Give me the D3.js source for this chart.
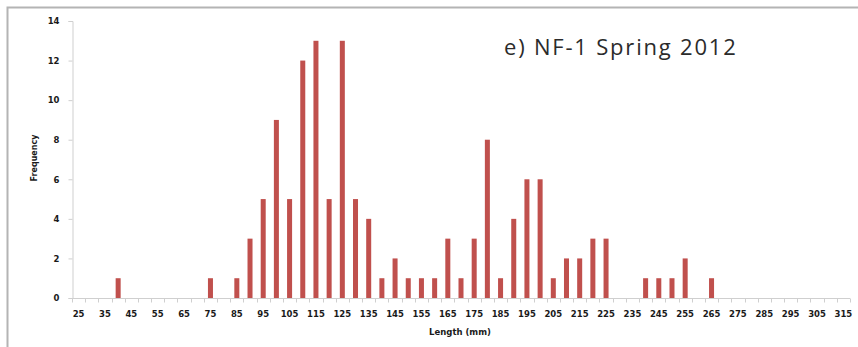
<!DOCTYPE html>
<html>
<head>
<meta charset="utf-8">
<script src="https://cdn.jsdelivr.net/npm/d3@7"></script>
<style>
  body { margin: 0; background: #fff; }
  svg { display: block; }
</style>
</head>
<body>
<div id="container"></div>
<script>
const WIDTH = 858;
const HEIGHT = 347;

// length classes (mm), 25 .. 315 in steps of 5
const lengths = [25, 30, 35, 40, 45, 50, 55, 60, 65, 70, 75, 80, 85, 90, 95,
                 100, 105, 110, 115, 120, 125, 130, 135, 140, 145, 150, 155, 160, 165, 170,
                 175, 180, 185, 190, 195, 200, 205, 210, 215, 220, 225, 230, 235, 240, 245,
                 250, 255, 260, 265, 270, 275, 280, 285, 290, 295, 300, 305, 310, 315];
const frequency = [0, 0, 0, 1, 0, 0, 0, 0, 0, 0, 1, 0, 1, 3, 5,
                   9, 5, 12, 13, 5, 13, 5, 4, 1, 2, 1, 1, 1, 3, 1,
                   3, 8, 1, 4, 6, 6, 1, 2, 2, 3, 3, 0, 0, 1, 1,
                   1, 2, 0, 1, 0, 0, 0, 0, 0, 0, 0, 0, 0, 0];
const yTicks = [0, 2, 4, 6, 8, 10, 12, 14];
const xLabels = lengths.filter((d, i) => i % 2 === 0);

const PLOT = { LEFT: 72, RIGHT: 850, TOP: 21, BOTTOM: 298 };
const TICK_FONT = 'DejaVu Sans, sans-serif';

const svg = d3.select('#container')
              .append('svg')
                .attr('width', WIDTH)
                .attr('height', HEIGHT);

// outer frame (only top and left edges are visible)
svg.append('path')
     .attr('d', `M7.5,${HEIGHT} V7.5 H${WIDTH}`)
     .attr('fill', 'none')
     .attr('stroke', '#b4b4b4')
     .attr('stroke-width', 2);

const xscale = d3.scaleBand()
                 .domain(lengths)
                 .range([PLOT.LEFT, PLOT.RIGHT])
                 .paddingInner(0.62)
                 .paddingOuter(0.31);

const yscale = d3.scaleLinear()
                 .domain([0, 14])
                 .range([PLOT.BOTTOM, PLOT.TOP]);

// y axis
const yAxis = svg.append('g')
                 .attr('transform', `translate(${PLOT.LEFT + 0.5}, 0)`)
                 .call(d3.axisLeft(yscale).tickValues(yTicks).tickSize(4).tickPadding(9));

yAxis.select('.domain').attr('stroke', '#cfcfcf');
yAxis.selectAll('.tick line').attr('stroke', '#cfcfcf');
yAxis.selectAll('.tick text')
     .attr('font-family', TICK_FONT)
     .attr('font-weight', 'bold')
     .attr('font-size', 8.5)
     .attr('fill', '#1a1a1a');

// x axis: ticks sit between categories, labels on every other class
const step = xscale.step();
const xAxis = svg.append('g')
                 .attr('transform', `translate(0, ${PLOT.BOTTOM + 0.5})`);

xAxis.append('line')
       .attr('x1', PLOT.LEFT)
       .attr('x2', PLOT.RIGHT)
       .attr('stroke', '#cfcfcf');

xAxis.selectAll('.xtick')
     .data(lengths.concat(['end']))
     .join('line')
       .attr('class', 'xtick')
       .attr('x1', (d, i) => Math.round(PLOT.LEFT + i * step) + 0.5)
       .attr('x2', (d, i) => Math.round(PLOT.LEFT + i * step) + 0.5)
       .attr('y1', 0)
       .attr('y2', 4)
       .attr('stroke', '#cfcfcf');

xAxis.selectAll('.xlabel')
     .data(xLabels)
     .join('text')
       .attr('class', 'xlabel')
       .attr('x', d => xscale(d) + xscale.bandwidth() / 2)
       .attr('y', 18)
       .attr('text-anchor', 'middle')
       .attr('font-family', TICK_FONT)
       .attr('font-weight', 'bold')
       .attr('font-size', 8.5)
       .attr('fill', '#1a1a1a')
       .text(d => d);

// bars
svg.append('g')
   .selectAll('rect')
   .data(lengths.map((d, i) => ({ length: d, value: frequency[i] })).filter(d => d.value > 0))
   .join('rect')
     .attr('x', d => xscale(d.length))
     .attr('y', d => yscale(d.value))
     .attr('width', xscale.bandwidth())
     .attr('height', d => yscale(0) - yscale(d.value))
     .attr('fill', '#c0504d');

// axis titles
svg.append('text')
     .attr('transform', `translate(37, 158) rotate(-90)`)
     .attr('text-anchor', 'middle')
     .attr('font-family', TICK_FONT)
     .attr('font-weight', 'bold')
     .attr('font-size', 8)
     .attr('fill', '#1a1a1a')
     .text('Frequency');

svg.append('text')
     .attr('x', 460)
     .attr('y', 335)
     .attr('text-anchor', 'middle')
     .attr('font-family', TICK_FONT)
     .attr('font-weight', 'bold')
     .attr('font-size', 8.5)
     .attr('fill', '#1a1a1a')
     .text('Length (mm)');

// chart title
svg.append('text')
     .attr('x', 504)
     .attr('y', 55)
     .attr('font-family', 'Open Sans, sans-serif')
     .attr('font-size', 22)
     .attr('letter-spacing', 1.8)
     .attr('fill', '#2b2b2b')
     .text('e) NF-1 Spring 2012');
</script>
</body>
</html>
